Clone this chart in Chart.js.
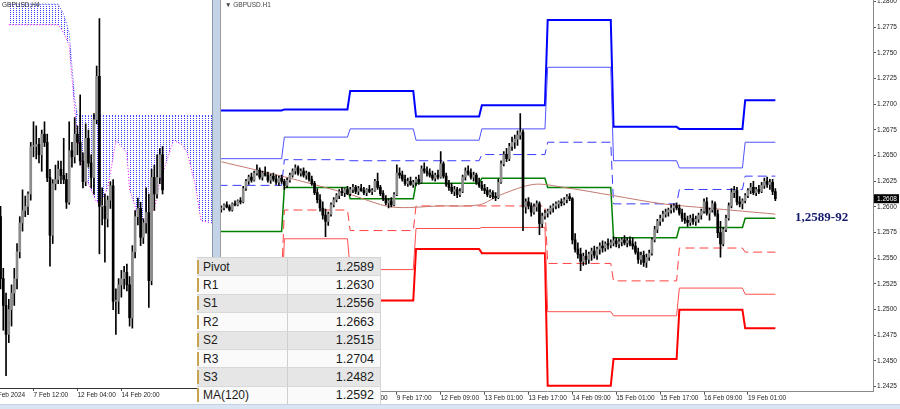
<!DOCTYPE html>
<html>
<head>
<meta charset="utf-8">
<script src="https://cdn.jsdelivr.net/npm/chart.js@4.4.1/dist/chart.umd.min.js"></script>
<style>
body { margin:0; width:900px; height:409px; overflow:hidden; background:#fff; font-family:"Liberation Sans", Arial, sans-serif; }
#h4 { position:absolute; left:0; top:0; }
#h1 { position:absolute; left:221px; top:0; }
#split { position:absolute; left:212px; top:0; width:7px; height:404px; background:#c4d4e8; border-left:1px solid #8c98a6; border-right:1px solid #9a9a9a; }
#strip { position:absolute; left:0; top:404px; width:900px; height:5px; background:#dae5f3; border-top:1px solid #c3d1e3; }
.tag { position:absolute; font-size:6.5px; color:#444; white-space:nowrap; }
#levels { position:absolute; left:197px; top:257px; width:183px; background:#fafafa; border-top:1px solid #d4d4d4; border-right:1px solid #d4d4d4; }
.row { height:18.4px; display:flex; align-items:center; border-bottom:1px solid #d8d8d8; box-sizing:border-box; }
.row.alt { background:#e6e6e6; }
.mark { width:2px; height:14px; background:#c9a450; }
.name { width:84px; height:100%; padding-left:4px; display:flex; align-items:center; border-right:1px solid #cfcfcf; font-size:12px; color:#1a1a1a; }
.val { flex:1; text-align:right; padding-right:6px; font-family:"Liberation Sans Narrow", "Liberation Sans", sans-serif; font-size:12.5px; color:#1a1a1a; }
</style>
</head>
<body>
<canvas id="h4" width="212" height="404"></canvas>
<div id="split"></div>
<canvas id="h1" width="679" height="404"></canvas>
<div class="tag" style="left:2px;top:1px;color:#333">GBPUSD,H4</div>
<div class="tag" style="left:225px;top:1px">&#9660; GBPUSD.H1</div>
<div id="levels"></div>
<div id="strip"></div>
<script>
// ---- H1 chart data (bar index = trading hours since 7 Feb 00:00) ----
const priceTicks = [1.2425, 1.2450, 1.2475, 1.2500, 1.2525, 1.2550, 1.2575, 1.2600, 1.2625, 1.2650, 1.2675, 1.2700, 1.2725, 1.2750, 1.2775, 1.2800];
const h1TickBars = [1, 17, 33, 49, 65, 81, 97, 113, 129, 145, 161, 177, 193];
const h1TickLabels = ['7 Feb 01:00', '7 Feb 17:00', '8 Feb 09:00', '9 Feb 01:00', '9 Feb 17:00', '12 Feb 09:00', '13 Feb 01:00', '13 Feb 17:00', '14 Feb 09:00', '15 Feb 01:00', '15 Feb 17:00', '16 Feb 09:00', '19 Feb 01:00'];

const dayStart = [0, 24, 48, 72, 96, 120, 144, 168, 192];
const lastBar = 203;
const r3 = [1.2694, 1.2695, 1.2713, 1.2688, 1.2699, 1.2782, 1.2678, 1.2676, 1.2704];
const r2 = [1.2647, 1.2668, 1.2676, 1.2665, 1.2676, 1.2736, 1.2645, 1.2638, 1.2663];
const r1 = [1.2621, 1.2646, 1.2645, 1.2645, 1.2651, 1.2663, 1.2603, 1.2617, 1.2630];
const pivot = [1.2576, 1.2619, 1.2608, 1.2623, 1.2628, 1.2619, 1.2570, 1.2580, 1.2589];
const s1 = [1.2531, 1.2597, 1.2577, 1.2601, 1.2601, 1.2545, 1.2528, 1.2560, 1.2556];
const s2 = [1.2500, 1.2569, 1.2539, 1.2579, 1.2580, 1.2498, 1.2494, 1.2521, 1.2515];
const s3 = [1.2455, 1.2540, 1.2509, 1.2559, 1.2555, 1.2426, 1.2452, 1.2500, 1.2482];

const maBars = [1, 23, 47, 63, 81, 95, 103, 115, 126, 144, 162, 178, 203];
const maValues = [1.2644, 1.2630, 1.2613, 1.2600, 1.2601, 1.2602, 1.2612, 1.2622, 1.2619, 1.2611, 1.2603, 1.2599, 1.2593];

const noteText = '1,2589-92';
const noteBar = 210.2;
const noteLevel = 1.2590;

// open, high, low, close ; first candle sits on bar 1
const h1FirstBar = 1;
const h1Candles = [
[1.2598,1.2601,1.2595,1.2599],[1.2599,1.2603,1.2597,1.2602],[1.2602,1.2605,1.2599,1.2600],[1.2600,1.2602,1.2596,1.2597],
[1.2597,1.2604,1.2596,1.2603],[1.2603,1.2606,1.2601,1.2602],[1.2602,1.2607,1.2601,1.2606],[1.2606,1.2609,1.2603,1.2605],
[1.2605,1.2620,1.2604,1.2618],[1.2618,1.2627,1.2616,1.2625],[1.2625,1.2631,1.2622,1.2629],[1.2629,1.2633,1.2624,1.2626],
[1.2626,1.2635,1.2625,1.2633],[1.2633,1.2641,1.2631,1.2636],[1.2636,1.2638,1.2627,1.2629],[1.2629,1.2635,1.2626,1.2633],
[1.2633,1.2639,1.2630,1.2631],[1.2631,1.2634,1.2624,1.2626],[1.2626,1.2632,1.2623,1.2630],[1.2630,1.2633,1.2625,1.2627],
[1.2627,1.2631,1.2622,1.2624],[1.2624,1.2630,1.2621,1.2628],[1.2628,1.2631,1.2623,1.2625],[1.2625,1.2627,1.2617,1.2621],
[1.2621,1.2628,1.2619,1.2626],[1.2626,1.2633,1.2624,1.2631],[1.2631,1.2637,1.2629,1.2635],[1.2635,1.2641,1.2632,1.2638],
[1.2638,1.2640,1.2631,1.2633],[1.2633,1.2637,1.2630,1.2635],[1.2635,1.2638,1.2629,1.2631],[1.2631,1.2635,1.2627,1.2633],
[1.2633,1.2634,1.2625,1.2627],[1.2627,1.2630,1.2621,1.2623],[1.2623,1.2625,1.2612,1.2614],[1.2614,1.2618,1.2604,1.2607],
[1.2607,1.2612,1.2596,1.2599],[1.2599,1.2605,1.2588,1.2592],[1.2592,1.2598,1.2571,1.2586],[1.2586,1.2595,1.2582,1.2593],
[1.2593,1.2604,1.2591,1.2602],[1.2602,1.2609,1.2600,1.2607],[1.2607,1.2613,1.2605,1.2611],[1.2611,1.2617,1.2608,1.2615],
[1.2615,1.2619,1.2611,1.2614],[1.2614,1.2618,1.2610,1.2617],[1.2617,1.2620,1.2612,1.2613],[1.2613,1.2619,1.2611,1.2617],
[1.2617,1.2622,1.2614,1.2619],[1.2619,1.2621,1.2613,1.2615],[1.2615,1.2620,1.2612,1.2618],[1.2618,1.2622,1.2615,1.2616],
[1.2616,1.2619,1.2612,1.2614],[1.2614,1.2618,1.2611,1.2617],[1.2617,1.2621,1.2614,1.2615],[1.2615,1.2618,1.2612,1.2616],
[1.2616,1.2627,1.2615,1.2625],[1.2625,1.2633,1.2617,1.2619],[1.2619,1.2621,1.2611,1.2613],[1.2613,1.2616,1.2606,1.2608],
[1.2608,1.2611,1.2602,1.2604],[1.2604,1.2608,1.2599,1.2606],[1.2606,1.2609,1.2600,1.2602],[1.2602,1.2614,1.2601,1.2612],
[1.2612,1.2641,1.2611,1.2633],[1.2633,1.2638,1.2628,1.2631],[1.2631,1.2635,1.2625,1.2627],[1.2627,1.2631,1.2621,1.2623],
[1.2623,1.2628,1.2620,1.2625],[1.2625,1.2629,1.2621,1.2622],[1.2622,1.2626,1.2619,1.2624],[1.2624,1.2629,1.2621,1.2627],
[1.2627,1.2631,1.2622,1.2624],[1.2624,1.2640,1.2623,1.2637],[1.2637,1.2643,1.2633,1.2635],[1.2635,1.2639,1.2630,1.2633],
[1.2633,1.2637,1.2629,1.2631],[1.2631,1.2635,1.2626,1.2628],[1.2628,1.2633,1.2625,1.2631],[1.2631,1.2636,1.2627,1.2629],
[1.2629,1.2654,1.2628,1.2642],[1.2642,1.2644,1.2628,1.2630],[1.2630,1.2633,1.2620,1.2622],[1.2622,1.2626,1.2616,1.2619],
[1.2619,1.2623,1.2613,1.2615],[1.2615,1.2620,1.2611,1.2617],[1.2617,1.2619,1.2609,1.2612],[1.2612,1.2618,1.2610,1.2615],
[1.2615,1.2631,1.2614,1.2629],[1.2629,1.2638,1.2626,1.2635],[1.2635,1.2640,1.2631,1.2633],[1.2633,1.2637,1.2627,1.2629],
[1.2629,1.2634,1.2625,1.2631],[1.2631,1.2633,1.2622,1.2624],[1.2624,1.2628,1.2619,1.2621],[1.2621,1.2625,1.2616,1.2618],
[1.2618,1.2622,1.2613,1.2616],[1.2616,1.2619,1.2610,1.2612],[1.2612,1.2617,1.2609,1.2614],[1.2614,1.2616,1.2608,1.2610],
[1.2610,1.2614,1.2606,1.2609],[1.2609,1.2627,1.2608,1.2624],[1.2624,1.2645,1.2623,1.2642],[1.2642,1.2654,1.2640,1.2651],
[1.2651,1.2657,1.2644,1.2647],[1.2647,1.2662,1.2645,1.2659],[1.2659,1.2668,1.2655,1.2663],[1.2663,1.2670,1.2657,1.2666],
[1.2666,1.2674,1.2660,1.2670],[1.2670,1.2691,1.2666,1.2673],[1.2673,1.2675,1.2577,1.2600],[1.2600,1.2608,1.2594,1.2605],
[1.2605,1.2609,1.2598,1.2601],[1.2601,1.2604,1.2591,1.2595],[1.2595,1.2603,1.2593,1.2600],[1.2600,1.2606,1.2596,1.2603],
[1.2603,1.2605,1.2573,1.2584],[1.2584,1.2594,1.2580,1.2591],[1.2591,1.2597,1.2588,1.2594],[1.2594,1.2598,1.2590,1.2596],
[1.2596,1.2601,1.2593,1.2599],[1.2599,1.2603,1.2595,1.2601],[1.2601,1.2605,1.2598,1.2603],[1.2603,1.2606,1.2599,1.2605],
[1.2605,1.2608,1.2601,1.2604],[1.2604,1.2609,1.2602,1.2607],[1.2607,1.2612,1.2604,1.2610],[1.2610,1.2613,1.2606,1.2608],
[1.2608,1.2609,1.2564,1.2568],[1.2568,1.2574,1.2556,1.2559],[1.2559,1.2565,1.2550,1.2554],[1.2554,1.2560,1.2538,1.2547],
[1.2547,1.2555,1.2543,1.2552],[1.2552,1.2558,1.2544,1.2549],[1.2549,1.2556,1.2545,1.2554],[1.2554,1.2560,1.2548,1.2557],
[1.2557,1.2562,1.2550,1.2553],[1.2553,1.2561,1.2549,1.2559],[1.2559,1.2565,1.2554,1.2562],[1.2562,1.2567,1.2556,1.2560],
[1.2560,1.2566,1.2557,1.2564],[1.2564,1.2569,1.2559,1.2563],[1.2563,1.2568,1.2560,1.2565],[1.2565,1.2571,1.2562,1.2567],
[1.2567,1.2570,1.2561,1.2564],[1.2564,1.2569,1.2560,1.2566],[1.2566,1.2570,1.2562,1.2568],[1.2568,1.2572,1.2563,1.2565],
[1.2565,1.2570,1.2561,1.2567],[1.2567,1.2571,1.2562,1.2564],[1.2564,1.2570,1.2559,1.2562],[1.2562,1.2566,1.2554,1.2556],
[1.2556,1.2560,1.2545,1.2549],[1.2549,1.2556,1.2544,1.2553],[1.2553,1.2557,1.2542,1.2546],[1.2546,1.2554,1.2541,1.2551],
[1.2551,1.2558,1.2548,1.2555],[1.2555,1.2570,1.2553,1.2568],[1.2568,1.2581,1.2566,1.2578],[1.2578,1.2588,1.2575,1.2586],
[1.2586,1.2592,1.2582,1.2589],[1.2589,1.2596,1.2586,1.2593],[1.2593,1.2598,1.2590,1.2595],[1.2595,1.2599,1.2591,1.2597],
[1.2597,1.2602,1.2594,1.2599],[1.2599,1.2603,1.2595,1.2601],[1.2601,1.2604,1.2597,1.2599],[1.2599,1.2602,1.2592,1.2594],
[1.2594,1.2598,1.2586,1.2589],[1.2589,1.2594,1.2584,1.2587],[1.2587,1.2591,1.2581,1.2585],[1.2585,1.2592,1.2582,1.2589],
[1.2589,1.2593,1.2583,1.2586],[1.2586,1.2591,1.2582,1.2588],[1.2588,1.2594,1.2585,1.2592],[1.2592,1.2598,1.2588,1.2596],
[1.2596,1.2608,1.2594,1.2605],[1.2605,1.2609,1.2592,1.2594],[1.2594,1.2599,1.2587,1.2597],[1.2597,1.2606,1.2595,1.2603],
[1.2603,1.2605,1.2591,1.2593],[1.2593,1.2597,1.2570,1.2575],[1.2575,1.2586,1.2551,1.2564],[1.2564,1.2580,1.2562,1.2578],
[1.2578,1.2592,1.2576,1.2589],[1.2589,1.2604,1.2587,1.2601],[1.2601,1.2618,1.2599,1.2614],[1.2614,1.2620,1.2609,1.2616],
[1.2616,1.2619,1.2602,1.2605],[1.2605,1.2610,1.2600,1.2603],[1.2603,1.2608,1.2598,1.2606],[1.2606,1.2613,1.2604,1.2611],
[1.2611,1.2618,1.2609,1.2616],[1.2616,1.2623,1.2613,1.2619],[1.2619,1.2625,1.2612,1.2614],[1.2614,1.2619,1.2611,1.2617],
[1.2617,1.2621,1.2613,1.2615],[1.2615,1.2624,1.2614,1.2621],[1.2621,1.2628,1.2618,1.2625],[1.2625,1.2629,1.2619,1.2622],
[1.2622,1.2627,1.2617,1.2624],[1.2624,1.2627,1.2612,1.2615],[1.2615,1.2618,1.2606,1.2608]
];

// ---- H4 chart data (bar index = 4h bars since 5 Feb 12:00) ----
const h4TickBars = [-3, 12, 28, 44];
const h4TickLabels = ['5 Feb 2024', '7 Feb 12:00', '12 Feb 04:00', '14 Feb 20:00'];
const h4Candles = [
[1.2595,1.2600,1.2560,1.2565],[1.2565,1.2570,1.2540,1.2552],[1.2552,1.2558,1.2518,1.2538],[1.2538,1.2555,1.2534,1.2550],
[1.2550,1.2562,1.2542,1.2558],[1.2558,1.2570,1.2552,1.2565],[1.2565,1.2582,1.2560,1.2578],[1.2578,1.2595,1.2575,1.2592],
[1.2592,1.2608,1.2588,1.2598],[1.2598,1.2605,1.2595,1.2600],[1.2600,1.2607,1.2596,1.2606],[1.2606,1.2631,1.2603,1.2629],
[1.2629,1.2641,1.2624,1.2629],[1.2629,1.2639,1.2623,1.2630],[1.2630,1.2633,1.2621,1.2625],[1.2625,1.2637,1.2617,1.2635],
[1.2635,1.2641,1.2629,1.2631],[1.2631,1.2635,1.2612,1.2614],[1.2614,1.2618,1.2571,1.2586],[1.2586,1.2613,1.2582,1.2611],
[1.2611,1.2620,1.2608,1.2613],[1.2613,1.2622,1.2611,1.2618],[1.2618,1.2622,1.2611,1.2615],[1.2615,1.2633,1.2611,1.2613],
[1.2613,1.2616,1.2599,1.2602],[1.2602,1.2641,1.2601,1.2627],[1.2627,1.2631,1.2619,1.2624],[1.2624,1.2643,1.2621,1.2635],
[1.2635,1.2639,1.2625,1.2631],[1.2631,1.2654,1.2620,1.2622],[1.2622,1.2626,1.2609,1.2612],[1.2612,1.2640,1.2610,1.2633],
[1.2633,1.2637,1.2619,1.2621],[1.2621,1.2625,1.2609,1.2614],[1.2614,1.2645,1.2606,1.2642],[1.2642,1.2668,1.2640,1.2663],
[1.2663,1.2691,1.2577,1.2600],[1.2600,1.2609,1.2591,1.2600],[1.2600,1.2606,1.2573,1.2594],[1.2594,1.2605,1.2590,1.2603],
[1.2603,1.2612,1.2599,1.2610],[1.2610,1.2613,1.2550,1.2554],[1.2554,1.2560,1.2538,1.2554],[1.2554,1.2565,1.2548,1.2562],
[1.2562,1.2569,1.2556,1.2565],[1.2565,1.2571,1.2560,1.2568],[1.2568,1.2572,1.2559,1.2562],[1.2562,1.2566,1.2542,1.2546],
[1.2546,1.2581,1.2541,1.2578],[1.2578,1.2598,1.2575,1.2595],[1.2595,1.2604,1.2591,1.2599],[1.2599,1.2602,1.2581,1.2585],
[1.2585,1.2594,1.2582,1.2592],[1.2592,1.2609,1.2587,1.2597],[1.2597,1.2606,1.2551,1.2564],[1.2564,1.2618,1.2562,1.2614],
[1.2614,1.2620,1.2598,1.2606],[1.2606,1.2625,1.2604,1.2614],[1.2614,1.2628,1.2611,1.2625],[1.2625,1.2629,1.2606,1.2608]
];
const cloudBars   = [3, 9, 14, 21, 23, 25, 27, 28, 30, 32, 35, 37, 39, 40, 42, 46, 47, 50, 53, 56, 58, 61, 63, 66, 68, 71, 73, 77];
const cloudTop    = [1.2698, 1.2698, 1.2698, 1.2698, 1.2693, 1.2684, 1.2652, 1.2644, 1.2644, 1.2644, 1.2644, 1.2644, 1.2644, 1.2644,
                     1.2644, 1.2644, 1.2644, 1.2644, 1.2644, 1.2644, 1.2644, 1.2644, 1.2644, 1.2644, 1.2644, 1.2644, 1.2644, 1.2644];
const cloudBottom = [1.2688, 1.2688, 1.2688, 1.2688, 1.2684, 1.2678, 1.2647, 1.2635, 1.2616, 1.2611, 1.2602, 1.2603, 1.2609, 1.2616,
                     1.2632, 1.2626, 1.2608, 1.2596, 1.2592, 1.2599, 1.2612, 1.2624, 1.2632, 1.2630, 1.2626, 1.2610, 1.2593, 1.2592];

const levelNames = ['Pivot', 'R1', 'S1', 'R2', 'S2', 'R3', 'S3', 'MA(120)'];
const levelValues = ['1.2589', '1.2630', '1.2556', '1.2663', '1.2515', '1.2704', '1.2482', '1.2592'];

// ---- helpers ----
const axisFont = { family: 'Liberation Sans', size: 6.5 };
const bullColor = '#8c8c8c', bearColor = '#000000';

function steps(levels) {
  const pts = [];
  levels.forEach((v, d) => {
    const end = d < dayStart.length - 1 ? dayStart[d + 1] - 1 : lastBar;
    pts.push({ x: dayStart[d], y: v }, { x: end, y: v });
  });
  return pts;
}

function candleSets(rows, first) {
  return [{
    data: rows.map((c, k) => ({ x: first + k, y: [c[0], c[3]] })),
    backgroundColor: rows.map(c => c[3] >= c[0] ? bullColor : bearColor),
    barThickness: 2, minBarLength: 1, grouped: false, order: 0
  }, {
    data: rows.map((c, k) => ({ x: first + k, y: [c[2], c[1]] })),
    backgroundColor: '#000', barThickness: 1, grouped: false, order: 1
  }];
}

function stepLine(levels, color, width, dash, order) {
  return { type: 'line', data: steps(levels), borderColor: color, borderWidth: width, borderDash: dash,
           pointRadius: 0, fill: false, tension: 0, order: order };
}

function timeAxis(min, max, bars, labels, height, lineColor) {
  return {
    type: 'linear', min: min, max: max, offset: false,
    grid: { offset: false, drawOnChartArea: false, drawTicks: true, tickLength: 3, color: '#555' },
    border: { color: lineColor },
    ticks: { align: 'start', maxRotation: 0, autoSkip: false, padding: 0, color: '#222', font: axisFont,
             callback: v => labels[bars.indexOf(v)] },
    afterBuildTicks: s => { s.ticks = bars.map(v => ({ value: v })); },
    afterFit: s => { s.height = height; s.paddingLeft = 0; s.paddingRight = 0; }
  };
}

// ---- table ----
document.getElementById('levels').innerHTML = levelNames.map((n, k) =>
  '<div class="row' + (k % 2 === 0 ? ' alt' : '') + '"><div class="mark"></div><div class="name">' + n +
  '</div><div class="val">' + levelValues[k] + '</div></div>').join('');

// ---- left: H4 with cloud ----
const h4ctx = document.getElementById('h4').getContext('2d');
const dots = document.createElement('canvas');
dots.width = 3; dots.height = 2;
const dg = dots.getContext('2d');
dg.fillStyle = '#3c3cff';
dg.fillRect(1, 0, 1, 1);
const cloudFill = h4ctx.createPattern(dots, 'repeat');

new Chart(h4ctx, {
  type: 'bar',
  data: {
    datasets: candleSets(h4Candles, 0).concat([
      { type: 'line', data: cloudBars.map((b, k) => ({ x: b, y: cloudTop[k] })), borderColor: '#4040ff', borderWidth: 1,
        borderDash: [1, 2], pointRadius: 0, fill: '+1', backgroundColor: cloudFill, tension: 0, order: 5 },
      { type: 'line', data: cloudBars.map((b, k) => ({ x: b, y: cloudBottom[k] })), borderColor: '#ff00ff', borderWidth: 1,
        borderDash: [1, 2], pointRadius: 0, fill: false, tension: 0, order: 6 }
    ])
  },
  options: {
    responsive: false, animation: false, devicePixelRatio: 1,
    layout: { padding: 0 },
    plugins: { legend: { display: false }, tooltip: { enabled: false } },
    scales: {
      x: timeAxis(-0.2, 77, h4TickBars, h4TickLabels, 16, '#333'),
      y: { type: 'linear', display: false, min: 1.2512, max: 1.2700 }
    }
  }
});

// ---- right: H1 with pivot levels ----
const priceTag = {
  id: 'priceTag',
  afterDraw(chart) {
    const { ctx, chartArea, scales } = chart;
    const last = h1Candles[h1Candles.length - 1][3];
    const y = scales.y.getPixelForValue(last);
    ctx.save();
    ctx.fillStyle = '#000';
    ctx.fillRect(chartArea.right + 1, y - 4.5, 25, 9);
    ctx.fillStyle = '#fff';
    ctx.font = '6.5px "Liberation Sans"';
    ctx.textBaseline = 'middle';
    ctx.fillText(last.toFixed(4), chartArea.right + 4, y);
    ctx.fillStyle = '#141a6e';
    ctx.font = 'bold 13px "Liberation Serif"';
    ctx.fillText(noteText, scales.x.getPixelForValue(noteBar), scales.y.getPixelForValue(noteLevel));
    ctx.restore();
  }
};

new Chart(document.getElementById('h1'), {
  type: 'bar',
  data: {
    datasets: candleSets(h1Candles, h1FirstBar).concat([
      { type: 'line', data: maBars.map((b, k) => ({ x: b, y: maValues[k] })), borderColor: '#c47a70', borderWidth: 1,
        pointRadius: 0, fill: false, tension: 0.3, order: 2 },
      stepLine(pivot, '#008000', 1.5, [], 3),
      stepLine(r1, '#3a3aff', 1, [9, 5], 4),
      stepLine(s1, '#ff4040', 1, [9, 5], 4),
      stepLine(r2, '#5050ff', 1, [], 5),
      stepLine(s2, '#ff5050', 1, [], 5),
      stepLine(r3, '#0000ff', 2, [], 6),
      stepLine(s3, '#ff0000', 2, [], 6)
    ])
  },
  options: {
    responsive: false, animation: false, devicePixelRatio: 1,
    layout: { padding: 0 },
    plugins: { legend: { display: false }, tooltip: { enabled: false } },
    scales: {
      x: timeAxis(0.9, 238.6, h1TickBars, h1TickLabels, 12.3, '#8a8a8a'),
      y: {
        type: 'linear', position: 'right', min: 1.24201, max: 1.28015,
        grid: { drawOnChartArea: false, drawTicks: true, tickLength: 3, color: '#555' },
        border: { color: '#8a8a8a' },
        ticks: { padding: 1, color: '#222', font: axisFont, callback: v => v.toFixed(4) },
        afterBuildTicks: s => { s.ticks = priceTicks.map(v => ({ value: v })); },
        afterFit: s => { s.width = 27; s.paddingTop = 0; s.paddingBottom = 0; }
      }
    }
  },
  plugins: [priceTag]
});
</script>
</body>
</html>
